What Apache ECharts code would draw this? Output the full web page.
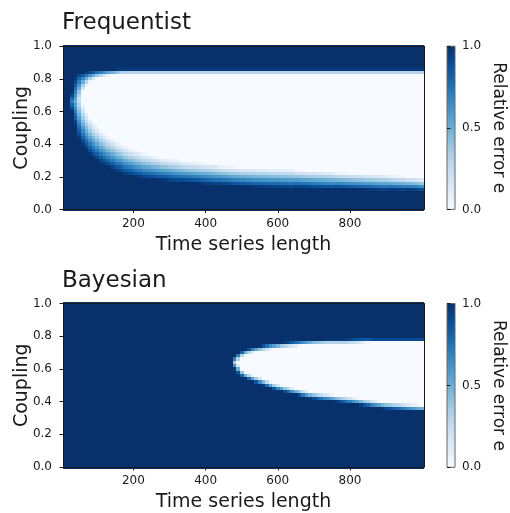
<!DOCTYPE html>
<html><head><meta charset="utf-8">
<script src="https://cdn.jsdelivr.net/npm/echarts@6/dist/echarts.min.js"></script>
<style>html,body{margin:0;padding:0;background:#fff}#c{width:510px;height:513px}</style>
</head><body><div id="c"></div>
<script>
// ---- sampling grid of the simulation ----
const timeLengths = Array.from({length: 100}, (_, i) => 10 * (i + 1));   // 10 ... 1000
const couplings = Array.from({length: 51}, (_, i) => +(i * 0.02).toFixed(2)); // 0 ... 1.0
const timeTicks = [200, 400, 600, 800];
const couplingTicks = [0, 0.2, 0.4, 0.6, 0.8, 1.0];
const errorTicks = [0, 0.5, 1.0];

// ---- per time column, coupling where relative error crosses 0.5 ----
// Frequentist: lower contour, its ramp width, upper contour, its ramp width (null = no low-error region)
const freqLower = [null, null, 0.70, 0.66, 0.58, 0.52, 0.48, 0.45, 0.425, 0.405,
  0.385, 0.37, 0.355, 0.342, 0.33, 0.32, 0.31, 0.30, 0.292, 0.285,
  0.278, 0.272, 0.267, 0.263, 0.259, 0.255, 0.251, 0.248, 0.245, 0.242,
  0.239, 0.236, 0.233, 0.231, 0.229, 0.227, 0.225, 0.223, 0.221, 0.219,
  0.217, 0.215, 0.213, 0.211, 0.209, 0.207, 0.205, 0.203, 0.202, 0.200,
  0.199, 0.198, 0.197, 0.196, 0.195, 0.194, 0.193, 0.193, 0.192, 0.192,
  0.191, 0.190, 0.190, 0.189, 0.188, 0.187, 0.186, 0.185, 0.184, 0.183,
  0.182, 0.181, 0.180, 0.179, 0.178, 0.177, 0.176, 0.175, 0.174, 0.173,
  0.172, 0.171, 0.170, 0.169, 0.168, 0.167, 0.166, 0.165, 0.164, 0.163,
  0.162, 0.161, 0.160, 0.159, 0.158, 0.157, 0.156, 0.155, 0.153, 0.150];
const freqLowerWidth = [null, null, 0.20, 0.30, 0.30, 0.26, 0.24, 0.23, 0.22, 0.21,
  0.20, 0.20, 0.19, 0.19, 0.19, 0.18, 0.18, 0.18, 0.17, 0.17,
  0.17, 0.16, 0.16, 0.16, 0.15, 0.15, 0.15, 0.14, 0.14, 0.14,
  0.14, 0.14, 0.13, 0.13, 0.13, 0.13, 0.13, 0.13, 0.13, 0.13,
  0.13, 0.13, 0.13, 0.12, 0.12, 0.12, 0.12, 0.12, 0.12, 0.12,
  0.12, 0.12, 0.12, 0.12, 0.12, 0.12, 0.12, 0.12, 0.12, 0.12,
  0.12, 0.12, 0.12, 0.12, 0.11, 0.11, 0.11, 0.11, 0.11, 0.11,
  0.11, 0.11, 0.11, 0.11, 0.11, 0.10, 0.10, 0.10, 0.10, 0.10,
  0.10, 0.10, 0.10, 0.10, 0.10, 0.10, 0.10, 0.10, 0.10, 0.10,
  0.09, 0.09, 0.09, 0.09, 0.09, 0.08, 0.08, 0.08, 0.08, 0.08];
const freqUpper = [null, null, 0.62, 0.66, 0.74, 0.78, 0.80, 0.812, 0.82, 0.826,
  0.831, 0.835, 0.838, 0.840, 0.842, 0.844, ...Array(84).fill(0.846)];
const freqUpperWidth = [null, null, 0.20, 0.30, 0.20, 0.12, 0.09, 0.07, 0.06, 0.055,
  0.05, 0.045, 0.04, 0.04, 0.035, 0.035, ...Array(84).fill(0.03)];

// Bayesian (no low-error region before t = 480)
const bayLower = [...Array(47).fill(null),
  0.628, 0.600, 0.575, 0.560, 0.551, 0.542, 0.534, 0.526, 0.518, 0.510,
  0.502, 0.494, 0.487, 0.482, 0.476, 0.471, 0.465, 0.460, 0.455, 0.449,
  0.444, 0.439, 0.436, 0.433, 0.430, 0.427, 0.425, 0.422, 0.419, 0.416,
  0.413, 0.410, 0.408, 0.405, 0.402, 0.398, 0.395, 0.392, 0.388, 0.385,
  0.382, 0.379, 0.377, 0.375, 0.373, 0.372, 0.370, 0.368, 0.366, 0.364,
  0.363, 0.361, 0.360];
const bayLowerWidth = [...Array(47).fill(null), 0.06, 0.055, 0.05, ...Array(50).fill(0.04)];
const bayUpper = [...Array(47).fill(null),
  0.648, 0.670, 0.688, 0.700, 0.707, 0.713, 0.718, 0.723, 0.727, 0.731,
  0.735, 0.738, 0.741, 0.744, 0.746, 0.748, 0.750, 0.752, 0.754, 0.756,
  0.758, 0.760, 0.762, 0.763, 0.764, 0.765, 0.766, 0.766, 0.766, 0.766,
  0.766, 0.766, 0.767, 0.768, 0.769, 0.770, 0.771, ...Array(16).fill(0.772)];
const bayUpperWidth = [...Array(47).fill(null), 0.06, 0.05, 0.04,
  ...Array(10).fill(0.035), ...Array(22).fill(0.03), 0.028, 0.026, 0.024, 0.022, ...Array(14).fill(0.02)];

const BLUES = ['#f7fbff','#deebf7','#c6dbef','#9ecae1','#6baed6','#4292c6','#2171b5','#08519c','#08306b'];
const FONT = 'DejaVu Sans';
const INK = '#1a1a1a';

function clamp01(v) { return Math.max(0, Math.min(1, v)); }
function buildCells(lower, lowerW, upper, upperW) {
  const out = [];
  timeLengths.forEach((t, i) => {
    couplings.forEach(c => {
      let e = 1;
      if (lower[i] !== null) {
        const eL = clamp01(0.5 + (lower[i] - c) / lowerW[i]);
        const eU = clamp01(0.5 + (c - upper[i]) / upperW[i]);
        e = Math.max(eL, eU);
      }
      out.push([t, c, e]);
    });
  });
  return out;
}
const freqCells = buildCells(freqLower, freqLowerWidth, freqUpper, freqUpperWidth);
const bayCells = buildCells(bayLower, bayLowerWidth, bayUpper, bayUpperWidth);

const dT = timeLengths[1] - timeLengths[0];
const dC = couplings[1] - couplings[0];

function cellItem(params, api) {
  const t = api.value(0), c = api.value(1);
  const p0 = api.coord([t - dT / 2, c + dC / 2]);
  const p1 = api.coord([t + dT / 2, c - dC / 2]);
  const x0 = Math.round(p0[0]), x1 = Math.round(p1[0]);
  const y0 = Math.round(p0[1]), y1 = Math.round(p1[1]);
  return {
    type: 'rect',
    shape: { x: x0, y: y0, width: x1 - x0, height: y1 - y0 },
    style: { fill: api.visual('color') }
  };
}
function barItem(params, api) {
  const p0 = api.coord([api.value(0), api.value(1)]);
  const p1 = api.coord([api.value(2), api.value(3)]);
  return {
    type: 'rect',
    shape: { x: p0[0], y: p1[1], width: p1[0] - p0[0], height: p0[1] - p1[1] },
    style: {
      fill: new echarts.graphic.LinearGradient(0, 1, 0, 0,
        BLUES.map((col, i) => ({ offset: i / (BLUES.length - 1), color: col }))),
      stroke: '#666', lineWidth: 1
    }
  };
}

const G1 = { left: 63, top: 46.2, width: 361, height: 163.2 };
const G2 = { left: 63, top: 303.5, width: 361, height: 163.8 };
const grids = [G1, G2,
  { left: 447, top: G1.top, width: 8, height: G1.height },
  { left: 447, top: G2.top, width: 8, height: G2.height }];

const tMin = timeLengths[0] - dT / 2, tMax = timeLengths[timeLengths.length - 1] + dT / 2;

function mainX(gi) {
  return {
    gridIndex: gi, type: 'value', min: tMin, max: tMax, z: 10,
    name: 'Time series length', nameLocation: 'middle', nameGap: 26,
    nameTextStyle: { fontFamily: FONT, fontSize: 19, color: INK },
    axisLine: { show: true, onZero: false, lineStyle: { color: INK, width: 1 } },
    axisTick: { show: true, length: 3.5, customValues: timeTicks, lineStyle: { color: INK, width: 1 } },
    axisLabel: { customValues: timeTicks, fontFamily: FONT, fontSize: 12, color: INK, margin: 8 },
    splitLine: { show: false }
  };
}
function frameX(gi) {
  return { gridIndex: gi, type: 'value', position: 'top', min: tMin, max: tMax, z: 10,
    axisLine: { show: true, onZero: false, lineStyle: { color: INK, width: 1 } },
    axisTick: { show: false }, axisLabel: { show: false }, splitLine: { show: false } };
}
function mainY(gi) {
  return {
    gridIndex: gi, type: 'value', min: couplingTicks[0], max: couplingTicks[couplingTicks.length - 1],
    interval: couplingTicks[1] - couplingTicks[0], z: 10,
    name: 'Coupling', nameLocation: 'middle', nameGap: 31, nameMoveOverlap: false,
    nameTextStyle: { fontFamily: FONT, fontSize: 19, color: INK },
    axisLine: { show: true, onZero: false, lineStyle: { color: INK, width: 1 } },
    axisTick: { show: true, length: 3.5, lineStyle: { color: INK, width: 1 } },
    axisLabel: { fontFamily: FONT, fontSize: 12, color: INK, margin: 11, formatter: v => v.toFixed(1) },
    splitLine: { show: false }
  };
}
function frameY(gi) {
  return { gridIndex: gi, type: 'value', position: 'right', min: 0, max: 1, z: 10,
    axisLine: { show: true, onZero: false, lineStyle: { color: INK, width: 1 } },
    axisTick: { show: false }, axisLabel: { show: false }, splitLine: { show: false } };
}
function barX(gi) {
  return { gridIndex: gi, type: 'value', min: 0, max: 1, show: false };
}
function barY(gi) {
  return {
    gridIndex: gi, type: 'value', position: 'right', min: errorTicks[0], max: errorTicks[errorTicks.length - 1],
    interval: errorTicks[1] - errorTicks[0], z: 10,
    name: 'Relative error e', nameLocation: 'middle', nameRotate: -90, nameGap: 35, nameMoveOverlap: false,
    nameTextStyle: { fontFamily: FONT, fontSize: 17, color: INK },
    axisLine: { show: false },
    axisTick: { show: true, length: 3.5, lineStyle: { color: INK, width: 1 } },
    axisLabel: { fontFamily: FONT, fontSize: 12, color: INK, margin: 7, formatter: v => v.toFixed(1) },
    splitLine: { show: false }
  };
}

const option = {
  animation: false,
  backgroundColor: '#fff',
  title: [
    { text: 'Frequentist', left: 62, top: 12, padding: 0,
      textStyle: { fontFamily: FONT, fontSize: 23, fontWeight: 'normal', color: INK } },
    { text: 'Bayesian', left: 62, top: 270, padding: 0,
      textStyle: { fontFamily: FONT, fontSize: 23, fontWeight: 'normal', color: INK } }
  ],
  grid: grids,
  xAxis: [mainX(0), mainX(1), frameX(0), frameX(1), barX(2), barX(3)],
  yAxis: [mainY(0), mainY(1), frameY(0), frameY(1), barY(2), barY(3)],
  visualMap: {
    show: false, type: 'continuous', min: 0, max: 1, dimension: 2,
    seriesIndex: [0, 1], inRange: { color: BLUES }
  },
  series: [
    { type: 'custom', xAxisIndex: 0, yAxisIndex: 0, clip: true, renderItem: cellItem,
      encode: { x: 0, y: 1 }, data: freqCells, silent: true },
    { type: 'custom', xAxisIndex: 1, yAxisIndex: 1, clip: true, renderItem: cellItem,
      encode: { x: 0, y: 1 }, data: bayCells, silent: true },
    { type: 'custom', xAxisIndex: 4, yAxisIndex: 4, renderItem: barItem,
      encode: { x: [0, 2], y: [1, 3] }, data: [[0, errorTicks[0], 1, errorTicks[2]]], silent: true },
    { type: 'custom', xAxisIndex: 5, yAxisIndex: 5, renderItem: barItem,
      encode: { x: [0, 2], y: [1, 3] }, data: [[0, errorTicks[0], 1, errorTicks[2]]], silent: true }
  ]
};
const chart = echarts.init(document.getElementById('c'), null, { renderer: 'canvas' });
chart.setOption(option);
</script></body></html>
